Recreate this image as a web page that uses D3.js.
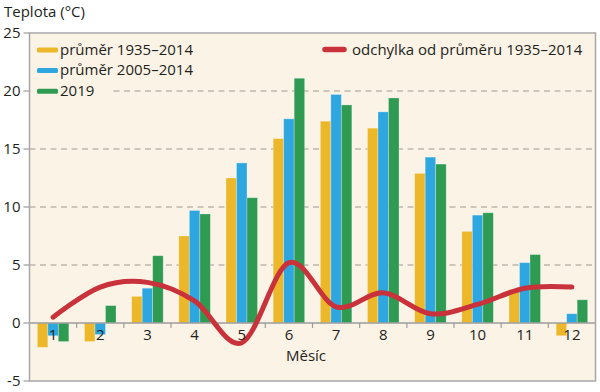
<!DOCTYPE html>
<html>
<head>
<meta charset="utf-8">
<script src="https://cdn.jsdelivr.net/npm/d3@7"></script>
<style>
  html, body { margin: 0; padding: 0; background: #ffffff; }
  svg text { font-family: "Open Sans", "Noto Sans", sans-serif; fill: #231f20; }
</style>
</head>
<body>
<svg id="chart" width="600" height="392"></svg>
<script>
// ---- data ----
const months = ["1","2","3","4","5","6","7","8","9","10","11","12"];
const avg1935 = [-2.1, -1.6, 2.3, 7.5, 12.5, 15.9, 17.4, 16.8, 12.9, 7.9, 2.9, -1.1];
const avg2005 = [-1.1, -1.0, 3.0, 9.7, 13.8, 17.6, 19.7, 18.2, 14.3, 9.3, 5.2, 0.8];
const y2019   = [-1.6, 1.5, 5.8, 9.4, 10.8, 21.1, 18.8, 19.4, 13.7, 9.5, 5.9, 2.0];
const deviation = [0.5, 3.1, 3.5, 1.9, -1.7, 5.2, 1.4, 2.6, 0.8, 1.6, 3.0, 3.1];
const seriesNames = ["průměr 1935–2014", "průměr 2005–2014", "2019"];
const lineName = "odchylka od průměru 1935–2014";
const yTicks = [-5, 0, 5, 10, 15, 20, 25];
const gridTicks = [5, 10, 15, 20];
const yTitle = "Teplota (°C)";
const xTitle = "Měsíc";

// ---- styles ----
const colors = ["#ecb82a", "#2ea7e0", "#2e9a52"];
const lineColor = "#c9323a";
const bgColor = "#fcf3e7";
const frameColor = "#a7a7a7";
const FS = 15;

const svg = d3.select("#chart");
const L = 29.5, R = 595.5, T = 33, B = 381;

const x = d3.scaleBand().domain(months).range([L, R]).paddingInner(0.332).paddingOuter(0.166);
const xs = d3.scaleBand().domain([0,1,2]).range([0, x.bandwidth()]);
const y = d3.scaleLinear().domain([-5, 25]).range([B, T]);

// background
svg.append("rect").attr("x", L).attr("y", T).attr("width", R - L).attr("height", B - T).attr("fill", bgColor);

// gridlines
svg.append("g").selectAll("line").data(gridTicks).join("line")
  .attr("x1", L).attr("x2", R)
  .attr("y1", d => y(d)).attr("y2", d => y(d))
  .attr("stroke", "#a09a94").attr("stroke-width", 1.2).attr("stroke-dasharray", "6,4.5");

// bars
const seriesData = [avg1935, avg2005, y2019];
const barsG = svg.append("g");
seriesData.forEach((vals, si) => {
  barsG.append("g").selectAll("rect").data(vals).join("rect")
    .attr("x", (d, i) => x(months[i]) + xs(si))
    .attr("width", xs.bandwidth())
    .attr("y", d => y(Math.max(0, d)))
    .attr("height", d => Math.abs(y(d) - y(0)))
    .attr("fill", colors[si])
    .attr("stroke", "rgba(255,255,255,0.35)")
    .attr("stroke-width", 0.8);
});

// zero line
svg.append("line").attr("x1", L).attr("x2", R).attr("y1", y(0)).attr("y2", y(0))
  .attr("stroke", "#9c9c9c").attr("stroke-width", 1.6);

// x ticks at band boundaries
const boundaries = months.slice(1).map(m => x(m) - x.step() * x.paddingInner() / 2);
svg.append("g").selectAll("line").data(boundaries).join("line")
  .attr("x1", d => d).attr("x2", d => d)
  .attr("y1", y(0)).attr("y2", y(0) + 5)
  .attr("stroke", "#9c9c9c").attr("stroke-width", 1.2);

// deviation line
const line = d3.line()
  .x((d, i) => x(months[i]) + x.bandwidth() / 2)
  .y(d => y(d))
  .curve(d3.curveCardinal.tension(0));
svg.append("path").datum(deviation).attr("d", line)
  .attr("fill", "none").attr("stroke", lineColor).attr("stroke-width", 5)
  .attr("stroke-linecap", "round").attr("stroke-linejoin", "round");

// month labels
svg.append("g").selectAll("text").data(months).join("text")
  .attr("x", d => x(d) + x.bandwidth() / 2)
  .attr("y", y(0) + 17)
  .attr("text-anchor", "middle")
  .attr("font-size", FS)
  .text(d => d);

// x title
svg.append("text").attr("x", 306).attr("y", 361).attr("text-anchor", "middle")
  .attr("font-size", FS).text(xTitle);

// y axis ticks and labels
const yAxisG = svg.append("g");
yAxisG.selectAll("line").data(yTicks).join("line")
  .attr("x1", L - 6).attr("x2", L).attr("y1", d => y(d)).attr("y2", d => y(d))
  .attr("stroke", "#9c9c9c").attr("stroke-width", 1.2);
yAxisG.selectAll("text").data(yTicks).join("text")
  .attr("x", L - 9).attr("y", d => y(d) + 5)
  .attr("text-anchor", "end").attr("font-size", FS)
  .text(d => d);

svg.append("text").attr("x", 4).attr("y", 17).attr("font-size", FS).text(yTitle);

// legend
const legG = svg.append("g");
seriesNames.forEach((name, i) => {
  const gy = 50 + i * 20.6;
  const g = legG.append("g");
  const bg = g.append("rect").attr("fill", bgColor);
  g.append("rect").attr("x", 37).attr("y", gy - 2.5).attr("width", 21).attr("height", 5)
    .attr("rx", 1.5).attr("fill", colors[i]);
  const t = g.append("text").attr("x", 60).attr("y", gy + 4.8).attr("font-size", FS).text(name);
  const w = t.node().getComputedTextLength();
  bg.attr("x", L + 1).attr("y", gy - 9).attr("width", 60 + w + 16 - L - 1).attr("height", 18);
});
legG.append("line").attr("x1", 325).attr("x2", 344).attr("y1", 49.5).attr("y2", 49.5)
  .attr("stroke", lineColor).attr("stroke-width", 5.5).attr("stroke-linecap", "round");
legG.append("text").attr("x", 352).attr("y", 54.5).attr("font-size", FS).text(lineName);

// frame
svg.append("rect").attr("x", L).attr("y", T).attr("width", R - L).attr("height", B - T)
  .attr("fill", "none").attr("stroke", frameColor).attr("stroke-width", 1.5);
</script>
</body>
</html>
